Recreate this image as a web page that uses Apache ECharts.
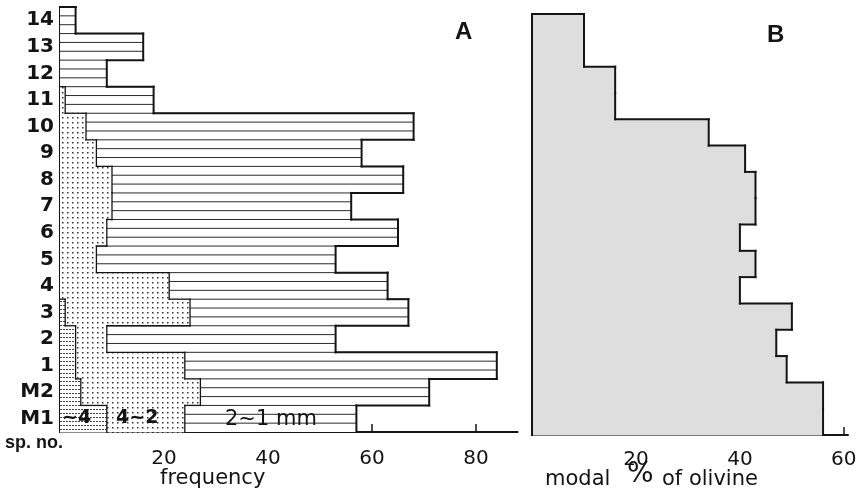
<!DOCTYPE html>
<html>
<head>
<meta charset="utf-8">
<script src="https://cdn.jsdelivr.net/npm/echarts@6/dist/echarts.min.js"></script>
<style>
html,body{margin:0;padding:0;background:#fff;}
#c{width:862px;height:493px;}
</style>
</head>
<body>
<div id="c"></div>
<script>
// ---- data ----
const categories = ['M1','M2','1','2','3','4','5','6','7','8','9','10','11','12','13','14'];
const fracOver4  = [9, 4, 3, 3, 1, 0, 0, 0, 0, 0, 0, 0, 0, 0, 0, 0];
const frac4to2   = [15,23,21, 6,24,21, 7, 9,10,10, 7, 5, 1, 0, 0, 0];
const frac2to1   = [33,44,60,44,42,42,46,56,46,56,51,63,17, 9,16, 3];
const olivine    = [56,56,49,47,50,40,43,40,43,43,41,34,16,16,10,10];
const freqTicks  = [20,40,60,80];
const freqMinorTicks = [40,60,80];
const olivTicks  = [20,40,60];

// ---- patterns ----
function makePattern(w, h, draw) {
  const c = document.createElement('canvas');
  c.width = w; c.height = h;
  const ctx = c.getContext('2d');
  ctx.fillStyle = '#fff'; ctx.fillRect(0, 0, w, h);
  draw(ctx);
  return { image: c, repeat: 'repeat' };
}
const dotPattern = makePattern(5, 5, ctx => { ctx.fillStyle = '#333'; ctx.fillRect(2, 2, 1.5, 1.5); });
const densePattern = makePattern(3, 4, ctx => { ctx.fillStyle = '#444'; ctx.fillRect(0, 1, 2, 1); });

const INK = '#141414';

function line(x1, y1, x2, y2, w, color) {
  return { type: 'line', shape: { x1, y1, x2, y2 }, style: { stroke: color || INK, lineWidth: w, lineCap: 'square' }, z2: 10 };
}
function pushLine(arr, x1, y1, x2, y2, w) {
  if (Math.abs(x2 - x1) < 0.5 && Math.abs(y2 - y1) < 0.5) return;
  arr.push(line(x1, y1, x2, y2, w));
}

function cumAt(i) {
  if (i < 0 || i >= categories.length) return [0, 0, 0];
  const s1 = fracOver4[i], s2 = s1 + frac4to2[i], s3 = s2 + frac2to1[i];
  return [s1, s2, s3];
}

function renderA(params, api) {
  const i = api.value(0);
  const c = api.coord([0, i]);
  const h = api.size([0, 1])[1];
  const top = c[1] - h / 2, bot = c[1] + h / 2;
  const X = v => api.coord([v, i])[0];
  const [s1, s2, s3] = cumAt(i);
  const [n1, n2, n3] = cumAt(i + 1);
  const x0 = X(0), x1 = X(s1), x2 = X(s2), x3 = X(s3);
  const ch = [];
  if (s1 > 0) ch.push({ type: 'rect', shape: { x: x0, y: top - 0.5, width: x1 - x0, height: h + 1 }, style: { fill: densePattern }, z2: 1 });
  if (s2 > s1) ch.push({ type: 'rect', shape: { x: x1, y: top - 0.5, width: x2 - x1, height: h + 1 }, style: { fill: dotPattern }, z2: 1 });
  ch.push({ type: 'rect', shape: { x: x2, y: top, width: x3 - x2, height: h }, style: { fill: '#fff' }, z2: 0 });
  // hatch lines in the 2~1 mm fraction
  for (let k = 0; k < 3; k++) {
    const y = top + k * h / 3;
    ch.push({ type: 'line', shape: { x1: x2, y1: y, x2: x3, y2: y }, style: { stroke: '#2a2a2a', lineWidth: 1 }, z2: 5 });
  }
  // verticals
  if (s1 > 0) pushLine(ch, x1, top, x1, bot, 1.3);
  if (s2 > s1) pushLine(ch, x2, top, x2, bot, 1.3);
  pushLine(ch, x3, top, x3, bot, 2);
  // connectors to row above
  if (s1 > 0 || n1 > 0) pushLine(ch, x1, top, X(n1), top, 1.3);
  if (s2 > 0 || n2 > 0) pushLine(ch, x2, top, X(n2), top, 1.3);
  pushLine(ch, x3, top, X(n3), top, 2);
  if (i === categories.length - 1) pushLine(ch, x0, top, x3, top, 2);
  return { type: 'group', children: ch };
}

function renderB(params, api) {
  const i = api.value(0);
  const v = api.value(1);
  const c = api.coord([0, i]);
  const h = api.size([0, 1])[1];
  const top = c[1] - h / 2, bot = c[1] + h / 2;
  const X = val => api.coord([val, i])[0];
  const next = i + 1 < olivine.length ? olivine[i + 1] : 0;
  const x0 = X(0), xv = X(v);
  const ch = [
    { type: 'rect', shape: { x: x0, y: top - 0.6, width: xv - x0, height: h + 1.2 }, style: { fill: '#dedede' }, z2: 1 }
  ];
  pushLine(ch, xv, top, xv, bot, 2);
  pushLine(ch, xv, top, X(next), top, 2);
  pushLine(ch, x0, top, x0, bot, 2);
  return { type: 'group', children: ch };
}

const chart = echarts.init(document.getElementById('c'), null, { renderer: 'canvas' });
const labelFont = 'DejaVu Sans';
chart.setOption({
  animation: false,
  backgroundColor: '#fff',
  grid: [
    { left: 60, top: 7, width: 457.6, height: 425 },
    { left: 532, top: 14, width: 316, height: 421 }
  ],
  xAxis: [
    {
      type: 'value', gridIndex: 0, min: 0, max: 88, interval: 20,
      axisLine: { show: true, lineStyle: { color: INK, width: 2 } },
      axisTick: { show: true, inside: true, length: 8, customValues: freqMinorTicks, lineStyle: { color: INK, width: 1.5 } },
      axisLabel: { customValues: freqTicks, margin: 17, fontSize: 20, fontFamily: labelFont, color: INK },
      splitLine: { show: false }
    },
    {
      type: 'value', gridIndex: 1, min: 0, max: 60.8, interval: 20,
      axisLine: { show: true, lineStyle: { color: INK, width: 2 } },
      axisTick: { show: true, inside: true, length: 8, customValues: olivTicks, lineStyle: { color: INK, width: 1.5 } },
      axisLabel: { customValues: olivTicks, margin: 15, fontSize: 20, fontFamily: labelFont, color: INK },
      splitLine: { show: false }
    }
  ],
  yAxis: [
    {
      type: 'category', gridIndex: 0, data: categories, boundaryGap: true,
      axisLine: { show: true, lineStyle: { color: INK, width: 2 } },
      axisTick: { show: false },
      axisLabel: { margin: 6, fontSize: 20, fontWeight: 'bold', fontFamily: labelFont, color: INK, interval: 0 }
    },
    {
      type: 'category', gridIndex: 1, data: categories, boundaryGap: true,
      axisLine: { show: false }, axisTick: { show: false }, axisLabel: { show: false }
    }
  ],
  series: [
    {
      type: 'custom', name: 'frequency', xAxisIndex: 0, yAxisIndex: 0,
      renderItem: renderA,
      encode: { y: 0, x: [1, 2, 3] },
      data: categories.map((c, i) => [i, fracOver4[i], frac4to2[i], frac2to1[i]])
    },
    {
      type: 'custom', name: 'olivine', xAxisIndex: 1, yAxisIndex: 1,
      renderItem: renderB,
      encode: { y: 0, x: 1 },
      data: categories.map((c, i) => [i, olivine[i]])
    }
  ],
  graphic: [
    { type: 'text', left: 455, top: 20, style: { text: 'A', font: 'bold 24px "Liberation Sans"', fill: INK } },
    { type: 'text', left: 767, top: 23, style: { text: 'B', font: 'bold 24px "Liberation Sans"', fill: INK } },
    { type: 'text', left: 5, top: 434, style: { text: 'sp. no.', font: 'bold 18px "Liberation Sans"', fill: INK } },
    { type: 'text', left: 160, top: 468, style: { text: 'frequency', font: '21px "DejaVu Sans"', fill: INK } },
    { type: 'text', left: 545, top: 469, style: { text: 'modal', font: '21px "DejaVu Sans"', fill: INK } },
    { type: 'text', left: 627, top: 461, style: { text: '%', font: '28px "DejaVu Sans"', fill: INK } },
    { type: 'text', left: 662, top: 469, style: { text: 'of olivine', font: '21px "DejaVu Sans"', fill: INK } },
    { type: 'text', left: 62, top: 409, z: 20, style: { text: '~4', font: 'bold 19px "DejaVu Sans"', fill: INK } },
    { type: 'text', left: 116, top: 409, z: 20, style: { text: '4~2', font: 'bold 19px "DejaVu Sans"', fill: INK } },
    { type: 'text', left: 225, top: 409, z: 20, style: { text: '2~1 mm', font: '21px "DejaVu Sans"', fill: INK } }
  ]
});
</script>
</body>
</html>
